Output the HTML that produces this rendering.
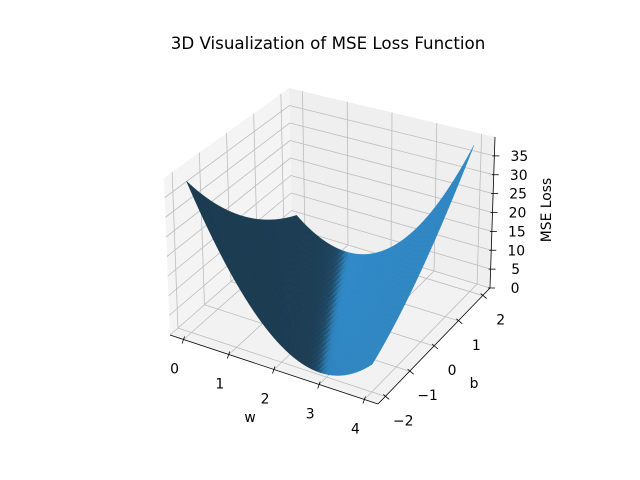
<!DOCTYPE html>
<html><head><meta charset="utf-8">
<style>
html,body{margin:0;padding:0;background:#fff;}
svg{display:block;font-family:"DejaVu Sans","Liberation Sans",sans-serif;}
</style></head>
<body>
<svg id="chart" width="640" height="480" viewBox="0 0 640 480">
<rect width="640" height="480" fill="#fff"/>
<text x="328" y="49" font-size="16.7" text-anchor="middle" fill="#000">3D Visualization of MSE Loss Function</text>
<g id="panes"></g>
<g id="grid"></g>
<g id="surface"></g>
<g id="axes"></g>
<text x="250" y="422" font-size="13.9" text-anchor="middle">w</text>
<text x="474" y="388" font-size="13.9" text-anchor="middle">b</text>
<text x="0" y="0" font-size="13.9" text-anchor="middle" transform="translate(551,210) rotate(-90)">MSE Loss</text>
</svg>
<script>
// data
const xData = [1, 2, 3];
const yData = [2, 4, 6];
const wTicks = [0, 1, 2, 3, 4];
const bTicks = [-2, -1, 0, 1, 2];
const zTicks = [0, 5, 10, 15, 20, 25, 30, 35];
const bTickLabels = ["\u22122", "\u22121", "0", "1", "2"];
const wRange = [0, 4];
const bRange = [-2, 2];

const NS = "http://www.w3.org/2000/svg";
const wLim = [-0.3, 4.3], bLim = [-2.3, 2.3], zLim = [0, 40];
const C = {
  c000:[170,335], c100:[378,404], c110:[490,288], c010:[292,228],
  c001:[164,178], c101:[381,236], c111:[495,137], c011:[289,88]
};
function lerp(a,b,s){return [a[0]+(b[0]-a[0])*s, a[1]+(b[1]-a[1])*s];}
function P(u,v,t){
  const b0 = lerp(lerp(C.c000,C.c100,u), lerp(C.c010,C.c110,u), v);
  const t0 = lerp(lerp(C.c001,C.c101,u), lerp(C.c011,C.c111,u), v);
  return lerp(b0,t0,t);
}
const U = w => (w-wLim[0])/(wLim[1]-wLim[0]);
const V = b => (b-bLim[0])/(bLim[1]-bLim[0]);
const T = z => (z-zLim[0])/(zLim[1]-zLim[0]);
function proj(w,b,z){return P(U(w),V(b),T(z));}
function loss(w,b){let s=0;for(let i=0;i<xData.length;i++){const e=w*xData[i]+b-yData[i];s+=e*e;}return s/xData.length;}
function mk(tag,attrs,parent){const e=document.createElementNS(NS,tag);for(const k in attrs)e.setAttribute(k,attrs[k]);parent.appendChild(e);return e;}
const pts = a => a.map(p=>p[0].toFixed(2)+","+p[1].toFixed(2)).join(" ");

// panes
const panes = document.getElementById('panes');
let e;
e = mk('polygon',{points:pts([P(0,0,0),P(0,1,0),P(0,1,1),P(0,0,1)]),fill:'#f4f4f4'},panes);
 
e = mk('polygon',{points:pts([P(0,1,0),P(1,1,0),P(1,1,1),P(0,1,1)]),fill:'#efefef'},panes);
 
e = mk('polygon',{points:pts([P(0,0,0),P(1,0,0),P(1,1,0),P(0,1,0)]),fill:'#f2f2f2'},panes);
 

// grid
const grid = document.getElementById('grid');
function gl(a,b){const l=mk('line',{x1:a[0],y1:a[1],x2:b[0],y2:b[1],stroke:'#bdbdbd','stroke-width':0.8},grid);
   }
wTicks.forEach(w=>{const u=U(w); gl(P(u,0,0),P(u,1,0)); gl(P(u,1,0),P(u,1,1));});
bTicks.forEach(b=>{const v=V(b); gl(P(0,v,0),P(1,v,0)); gl(P(0,v,0),P(0,v,1));});
zTicks.forEach(z=>{const t=T(z); gl(P(0,0,t),P(0,1,t)); gl(P(0,1,t),P(1,1,t));});

// surface
const surf = document.getElementById('surface');
const N = 46;
const L = [-0.6667,-0.6667,0.3333];
const quads = [];
for(let i=0;i<N;i++){for(let j=0;j<N;j++){
  const w0=wRange[0]+(wRange[1]-wRange[0])*i/N, w1=wRange[0]+(wRange[1]-wRange[0])*(i+1)/N;
  const b0=bRange[0]+(bRange[1]-bRange[0])*j/N, b1=bRange[0]+(bRange[1]-bRange[0])*(j+1)/N;
  const z00=loss(w0,b0),z10=loss(w1,b0),z11=loss(w1,b1),z01=loss(w0,b1);
  const dzdw=((z10-z00)+(z11-z01))/2/(w1-w0), dzdb=((z01-z00)+(z11-z10))/2/(b1-b0);
  const n=[-dzdw,-dzdb,1], nl=Math.hypot(n[0],n[1],n[2]);
  const sh=(n[0]*L[0]+n[1]*L[1]+n[2]*L[2])/nl;
  const f=0.3+0.7*(sh+1)/2;
  const col=[31,119,180].map(c=>Math.min(255,Math.round(c*f*1.03+16)));
  const wm=(w0+w1)/2,bm=(b0+b1)/2,zm=(z00+z10+z11+z01)/4;
  const depth=0.433*U(wm)-0.75*V(bm)+0.375*T(zm);
  quads.push({p:[proj(w0,b0,z00),proj(w1,b0,z10),proj(w1,b1,z11),proj(w0,b1,z01)],col,depth});
}}
quads.sort((a,b)=>a.depth-b.depth);
quads.forEach(q=>{const c='rgb('+q.col.join(',')+')';
  const p=mk('polygon',{points:pts(q.p),fill:c,stroke:c,'stroke-width':0.4,'stroke-linejoin':'round'},surf);
   });

// axes
const ax = document.getElementById('axes');
function line(a,b,name){const l=mk('line',{x1:a[0],y1:a[1],x2:b[0],y2:b[1],stroke:'#000','stroke-width':0.8},ax);
   }
function txt(x,y,s,name,anchor){const t=mk('text',{x:x,y:y,'font-size':13.9,'text-anchor':anchor||'middle',fill:'#000'},ax);t.textContent=s;
   }
line(P(0,0,0),P(1,0,0),'x-axis-line');
line(P(1,0,0),P(1,1,0),'y-axis-line');
line(P(1,1,0),P(1,1,1),'z-axis-line');
wTicks.forEach(w=>{const p=P(U(w),0,0); line([p[0]+1,p[1]-3],[p[0]-1.5,p[1]+4],'x-tick'); txt(p[0]-9,p[1]+34,String(w),'x-tick-label');});
bTicks.forEach((b,k)=>{const p=P(1,V(b),0); line([p[0]-2,p[1]-2],[p[0]+4,p[1]+3],'y-tick'); txt(p[0]+18,p[1]+29,bTickLabels[k],'y-tick-label');});
zTicks.forEach(z=>{const p=P(1,1,T(z)); line([p[0]-2,p[1]],[p[0]+5,p[1]],'z-tick'); txt(p[0]+25,p[1]+5,String(z),'z-tick-label');});
</script>
</body></html>
